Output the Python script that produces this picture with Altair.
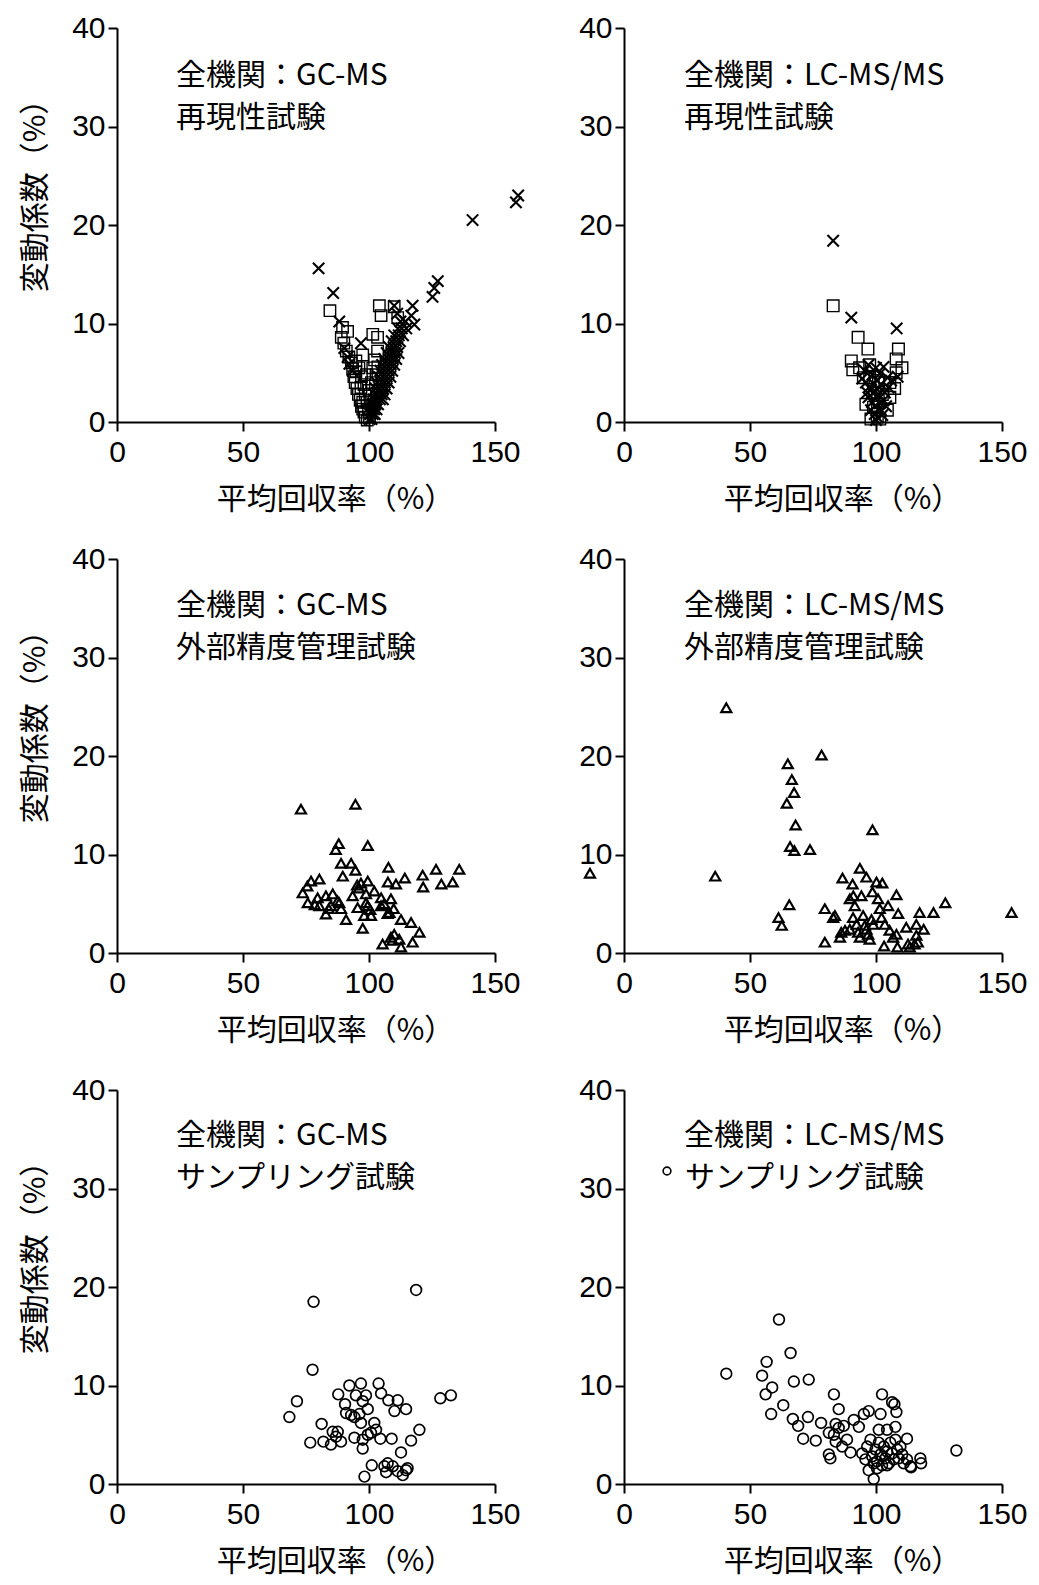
import altair as alt
import pandas as pd

# ---------------- data ----------------
# Top-left: GC-MS reproducibility (x = crosses, squares)
tl_cross_x = [80.0, 85.8, 88.2, 96.8, 90.2, 91.5, 92.2, 93.5, 141.1, 158.3, 159.2, 127.3, 125.9, 125.2,
              117.3, 118.0, 116.8, 110.0, 111.2,
              100.2, 101.0, 100.5, 101.5, 102.3, 101.0, 102.0, 103.0, 101.3, 102.5, 103.6,
              101.8, 103.0, 104.3, 105.5, 102.2, 103.5, 105.0, 106.2, 102.6, 104.2, 105.6, 107.0,
              103.2, 104.8, 106.3, 107.8, 103.8, 105.5, 107.0, 108.5, 104.5, 106.2, 107.8, 109.2,
              105.2, 107.0, 108.6, 110.0, 106.0, 107.8, 109.5, 110.8, 107.0, 108.8, 110.3, 111.7,
              108.0, 109.7, 111.2, 109.0, 110.8, 112.3, 110.0, 111.8, 113.5, 111.5, 113.0, 114.8,
              112.5, 114.5]
tl_cross_y = [15.6, 13.1, 10.2, 8.0, 7.5, 6.6, 5.9, 5.2, 20.5, 22.3, 23.0, 14.3, 13.6, 12.7,
              11.8, 9.9, 10.8, 11.8, 11.0,
              0.3, 0.3, 0.8, 0.8, 0.8, 1.3, 1.3, 1.3, 1.8, 1.8, 1.8,
              2.3, 2.3, 2.3, 2.3, 2.8, 2.8, 2.8, 2.8, 3.4, 3.4, 3.4, 3.4,
              4.0, 4.0, 4.0, 4.0, 4.6, 4.6, 4.6, 4.6, 5.2, 5.2, 5.2, 5.2,
              5.8, 5.8, 5.8, 5.8, 6.4, 6.4, 6.4, 6.4, 7.0, 7.0, 7.0, 7.0,
              7.6, 7.6, 7.6, 8.2, 8.2, 8.2, 8.8, 8.8, 8.8, 9.5, 9.5, 9.5,
              10.2, 10.2]
tl_square_x = [84.5, 89.5, 91.5, 89.0, 104.1, 104.8, 110.0, 111.4, 101.5, 103.4, 103.4, 94.8, 94.8,
               96.8, 97.5, 97.5,
               90.0, 91.0, 92.0, 93.0, 93.5, 94.0, 94.5, 95.2, 95.8, 96.5, 97.0, 98.0, 98.5, 99.3,
               96.0, 97.0, 98.0, 98.5, 99.2, 99.8, 100.2, 100.0, 101.0, 101.5, 102.2, 100.5, 99.0,
               97.5, 102.8, 103.5]
tl_square_y = [11.3, 9.6, 9.2, 8.6, 11.8, 10.8, 11.7, 10.6, 8.9, 8.6, 7.2, 6.2, 5.1,
               3.5, 2.0, 1.3,
               8.0, 7.2, 6.6, 6.0, 5.4, 4.6, 4.0, 3.4, 2.8, 2.2, 1.6, 1.0, 0.5, 0.2,
               5.5, 4.6, 3.8, 2.8, 2.0, 1.2, 0.5, 3.2, 4.0, 5.5, 6.3, 2.2, 4.8,
               6.8, 4.8, 5.6]

# Top-right: LC-MS/MS reproducibility
tr_cross_x = [83.0, 90.2, 108.2, 108.6,
              95.5, 97.0, 98.5, 100.0, 101.5, 103.0, 104.5, 96.0, 97.5, 99.0, 100.5, 102.0, 103.5,
              105.0, 97.0, 98.5, 100.0, 101.5, 103.0, 98.0, 99.5, 101.0, 102.5, 100.0, 104.0, 96.5,
              94.5, 106.0, 99.0, 100.5, 102.0, 98.0, 101.0, 99.5, 100.5]
tr_cross_y = [18.4, 10.6, 9.5, 4.6,
              5.2, 5.8, 4.8, 5.5, 4.9, 5.6, 4.5, 4.0, 3.6, 3.9, 3.3, 3.8, 3.0,
              3.5, 2.5, 2.0, 2.6, 1.9, 2.2, 1.2, 0.8, 1.3, 0.7, 0.2, 1.6, 3.0,
              4.4, 4.2, 3.0, 4.2, 1.2, 3.3, 2.8, 1.6, 0.5]
tr_square_x = [83.0, 92.9, 96.8, 108.9, 108.0, 90.2, 110.3, 90.8, 108.0, 107.4, 93.5, 97.5, 105.5,
               95.0, 97.5, 99.5, 101.0, 102.5, 99.0, 100.5, 103.5, 98.0, 101.5, 105.5, 96.0, 104.5]
tr_square_y = [11.8, 8.6, 7.4, 7.4, 6.4, 6.2, 5.5, 5.3, 5.0, 3.4, 5.5, 5.8, 4.0,
               4.5, 4.5, 3.0, 4.2, 2.8, 1.5, 0.5, 4.0, 0.3, 0.3, 2.5, 1.8, 1.2]

# Middle-left: GC-MS external QC (triangles)
ml_x = [73.0, 94.6, 86.8, 88.0, 99.5, 88.9, 92.9, 89.6, 94.6, 107.7,
        121.3, 126.6, 135.8, 128.7, 133.2, 121.5, 114.2, 107.5, 110.7, 99.5, 95.3, 96.8, 96.0,
        80.3, 77.0, 75.5, 73.7, 75.7, 79.6, 80.3, 78.5, 82.9, 85.6, 84.9, 84.0, 88.2, 88.9, 87.5,
        82.9, 90.9, 93.5, 98.8, 98.8, 95.5, 99.5, 100.5, 102.1, 104.8, 98.1, 100.8, 104.8, 108.7,
        108.1, 107.4, 109.8, 106.0, 97.5, 112.7, 116.7, 120.0, 105.4, 108.7, 110.0, 112.0, 112.7,
        117.3, 109.3]
ml_y = [14.6, 15.1, 10.5, 11.1, 10.9, 9.1, 9.1, 7.8, 8.4, 8.7,
        7.9, 8.5, 8.5, 7.0, 7.2, 6.7, 7.6, 7.2, 7.0, 7.3, 6.9, 7.1, 6.6,
        7.5, 7.3, 6.8, 6.1, 5.1, 5.6, 4.8, 4.9, 5.8, 6.0, 4.8, 4.5, 5.1, 4.5, 5.3,
        3.95, 3.4, 5.8, 6.0, 5.1, 4.6, 4.8, 4.4, 6.3, 5.6, 3.8, 3.8, 4.8, 5.5,
        4.1, 4.0, 4.5, 5.0, 2.5, 3.4, 3.1, 2.1, 0.9, 1.6, 1.9, 1.4, 0.6,
        1.1, 1.3]

# Middle-right: LC-MS/MS external QC (triangles)
mr_x = [-13.5, 36.2, 40.6, 65.0, 66.6, 67.5, 64.6, 68.1, 65.9, 67.6, 73.8, 78.4, 98.6,
        61.3, 62.6, 65.6, 79.7, 79.7, 83.0, 83.7, 86.7, 93.6, 96.2, 90.7, 89.6, 100.2, 102.5,
        98.6, 100.8, 94.2, 91.0, 91.6, 108.1, 104.8, 108.8, 117.3, 122.8, 127.5, 153.8,
        86.2, 85.7, 87.7, 89.6, 90.9, 92.3, 92.9, 93.6, 94.9, 95.6, 98.2, 98.9, 97.5,
        102.2, 103.5, 105.4, 106.8, 108.1, 103.2, 108.5, 112.0, 112.7, 113.4, 116.0, 116.0,
        115.3, 118.9, 116.6, 101.5, 96.2, 96.9]
mr_y = [8.1, 7.8, 24.9, 19.2, 17.6, 16.3, 15.2, 13.0, 10.8, 10.4, 10.5, 20.1, 12.5,
        3.6, 2.8, 4.9, 4.5, 1.1, 3.6, 3.8, 7.6, 8.6, 7.7, 7.0, 5.5, 7.2, 7.1,
        6.2, 5.5, 5.8, 5.8, 4.8, 5.9, 4.8, 4.0, 4.1, 4.1, 5.1, 4.1,
        2.1, 1.6, 2.3, 2.4, 3.6, 2.9, 2.1, 1.6, 3.8, 2.8, 3.4, 2.9, 1.4,
        3.6, 2.9, 2.3, 1.6, 1.9, 0.7, 0.6, 2.6, 0.9, 0.6, 2.9, 1.8,
        0.9, 2.4, 1.1, 4.5, 2.4, 1.9]

# Bottom-left: GC-MS sampling (circles)
bl_x = [78.0, 118.7, 77.6, 68.4, 71.4, 76.7, 81.2, 81.9, 84.9, 85.6, 87.6, 86.9, 88.9,
        87.8, 90.5, 92.2, 90.9, 92.9, 94.2, 96.2, 94.8, 98.8, 96.8, 97.5, 99.5, 96.8, 94.2,
        97.5, 99.5, 100.8, 97.5, 102.1, 102.8, 103.8, 104.8, 104.5, 107.7, 111.4, 110.1, 114.7,
        109.0, 116.7, 120.0, 112.7, 128.3, 132.5, 98.2, 101.1, 106.1, 107.4, 106.8, 109.4,
        111.4, 113.4, 114.7, 115.3]
bl_y = [18.5, 19.7, 11.6, 6.8, 8.4, 4.2, 6.1, 4.3, 4.0, 5.3, 5.3, 4.8, 4.3,
        9.1, 8.1, 10.0, 7.2, 7.0, 6.8, 7.1, 9.0, 9.0, 10.2, 8.4, 7.6, 6.2, 4.7,
        4.5, 5.0, 5.2, 3.6, 6.2, 5.5, 10.2, 9.2, 4.6, 8.5, 8.5, 7.4, 7.6,
        4.6, 4.4, 5.5, 3.2, 8.7, 9.0, 0.75, 1.9, 1.8, 2.1, 1.2, 1.8,
        1.3, 0.9, 1.4, 1.6]

# Bottom-right: LC-MS/MS sampling (circles)
br_x = [40.6, 61.5, 66.1, 56.6, 54.8, 56.2, 58.8, 67.4, 73.3, 58.4, 63.2, 67.0, 69.1, 73.0,
        71.1, 76.1, 78.2, 83.3, 85.2, 81.3, 83.3, 84.0, 85.2, 87.2, 81.3, 81.9, 84.0, 86.6,
        88.5, 89.9, 91.2, 93.2, 95.2, 97.1, 101.8, 102.4, 106.4, 107.3, 108.1, 107.7, 101.1,
        104.4, 112.3, 131.9, 117.6, 117.9, 112.3, 113.7,
        94.5, 95.8, 96.5, 97.8, 98.5, 99.1, 99.8, 100.4, 101.1, 101.8, 102.4, 103.1, 103.7,
        104.4, 105.1, 105.7, 106.4, 107.1, 107.7, 108.4, 109.0, 109.7, 110.4, 111.0, 97.1,
        100.4, 104.4, 99.1, 113.9]
br_y = [11.2, 16.7, 13.3, 12.4, 11.0, 9.1, 9.8, 10.4, 10.6, 7.1, 8.0, 6.6, 5.9, 6.8,
        4.6, 4.4, 6.2, 9.1, 7.6, 5.2, 5.0, 6.1, 5.7, 5.9, 3.0, 2.6, 4.3, 3.8,
        4.5, 3.2, 6.5, 5.8, 7.1, 7.4, 7.1, 9.1, 8.3, 8.1, 7.3, 5.8, 5.5,
        5.5, 4.6, 3.4, 2.6, 2.1, 2.5, 1.8,
        3.1, 2.5, 3.8, 4.5, 2.8, 2.1, 3.5, 2.3, 4.2, 3.0, 1.9, 3.8, 2.6,
        3.3, 2.1, 4.2, 3.1, 2.5, 4.5, 3.5, 2.6, 3.8, 3.0, 2.1, 1.4,
        1.6, 1.9, 0.5, 1.7]

x_ticks = [0, 50, 100, 150]
y_ticks = [0, 10, 20, 30, 40]
x_title = "平均回収率（%）"
y_title = "変動係数（%）"

# ---------------- chart ----------------
CJK = "Noto Sans CJK JP"
W, H = 378, 394
XS = alt.Scale(domain=[0, 150], nice=False, zero=False)
YS = alt.Scale(domain=[0, 40], nice=False, zero=False)
CROSS = "M-1,-1L1,1M-1,1L1,-1"


def x_axis():
    return alt.Axis(values=x_ticks, title=x_title, titleX=218, titleY=77,
                    titleAlign="center", titleBaseline="middle", labelPadding=6)


def y_axis(left):
    if left:
        return alt.Axis(values=y_ticks, title=y_title, titleX=-82, titleY=160,
                        titleAlign="center", titleBaseline="middle", titleAngle=-90,
                        labelPadding=3)
    return alt.Axis(values=y_ticks, title="", labelPadding=3)


def points(xs, ys, shape, size, sw, left):
    df = pd.DataFrame({"x": xs, "y": ys})
    return alt.Chart(df).mark_point(
        shape=shape, size=size, filled=False, stroke="black", strokeWidth=sw, opacity=1
    ).encode(
        x=alt.X("x:Q", scale=XS, axis=x_axis()),
        y=alt.Y("y:Q", scale=YS, axis=y_axis(left)),
    )


def label(text, px, py):
    return alt.Chart(pd.DataFrame({"t": [text]})).mark_text(
        align="left", baseline="middle", font=CJK, fontSize=30, color="black"
    ).encode(text="t:N", x=alt.value(px), y=alt.value(py))


p_tl = alt.layer(
    points(tl_square_x, tl_square_y, "square", 130, 1.4, True),
    points(tl_cross_x, tl_cross_y, CROSS, 130, 2.1, True),
    label("全機関：GC-MS", 59, 48),
    label("再現性試験", 59, 90),
).properties(width=W, height=H)

p_tr = alt.layer(
    points(tr_square_x, tr_square_y, "square", 135, 1.4, False),
    points(tr_cross_x, tr_cross_y, CROSS, 130, 2.1, False),
    label("全機関：LC-MS/MS", 60, 48),
    label("再現性試験", 60, 90),
).properties(width=W, height=H)

p_ml = alt.layer(
    points(ml_x, ml_y, "triangle-up", 100, 2.2, True),
    label("全機関：GC-MS", 59, 47),
    label("外部精度管理試験", 59, 89),
).properties(width=W, height=H)

p_mr = alt.layer(
    points(mr_x, mr_y, "triangle-up", 100, 2.2, False),
    label("全機関：LC-MS/MS", 60, 47),
    label("外部精度管理試験", 60, 89),
).properties(width=W, height=H)

p_bl = alt.layer(
    points(bl_x, bl_y, "circle", 115, 1.7, True),
    label("全機関：GC-MS", 59, 46),
    label("サンプリング試験", 59, 88),
).properties(width=W, height=H)

legend_glyph = alt.Chart(pd.DataFrame({"k": [1]})).mark_point(
    shape="circle", size=60, filled=False, stroke="black", strokeWidth=1.6, opacity=1
).encode(x=alt.value(43), y=alt.value(81))

p_br = alt.layer(
    points(br_x, br_y, "circle", 115, 1.7, False),
    label("全機関：LC-MS/MS", 60, 46),
    legend_glyph,
    label("サンプリング試験", 61, 88),
).properties(width=W, height=H)

chart = alt.concat(
    p_tl, p_tr, p_ml, p_mr, p_bl, p_br,
    columns=2,
    spacing={"row": 137, "column": 129},
    bounds="flush",
).properties(
    padding={"left": 20, "top": 13, "right": 10, "bottom": 10},
    background="white",
).configure_view(
    strokeWidth=0
).configure_axis(
    grid=False,
    domainColor="black", domainWidth=2,
    tickColor="black", tickWidth=2, tickSize=9,
    labelFont="Liberation Sans", labelFontSize=30, labelColor="black",
    labelFlush=False, labelOverlap=False,
    titleFont=CJK, titleFontSize=30, titleFontWeight="normal", titleColor="black",
)

chart.save("out.html", embed_options={"renderer": "svg", "actions": False})
